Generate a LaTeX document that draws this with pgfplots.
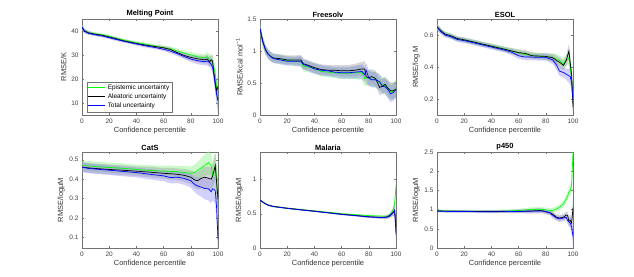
\documentclass[border=0pt]{standalone}
\usepackage{pgfplots}
\pgfplotsset{compat=1.18}
\usepackage{pgfplotstable}
\usepackage{fontspec}
\setmainfont{Liberation Sans}

\definecolor{mgreen}{rgb}{0,1,0}
\definecolor{mblue}{rgb}{0,0,1}
\definecolor{bgreen}{rgb}{0.55,0.95,0.55}
\definecolor{bgray}{rgb}{0.55,0.55,0.55}
\definecolor{bblue}{rgb}{0.55,0.55,0.95}

% columns: x, epistemic, aleatoric, total, band half-width
% first half: curve forward (+w); second half: same points reversed (-w), closing the band outline
\pgfplotstableread{
x e a t w
0 41.5 41.5 41.5 1.0
2 40.0 40.0 39.8 0.8
5 39.3 39.2 39.0 0.7
10 38.8 38.6 38.4 0.6
15 38.4 38.2 37.9 0.6
20 37.8 37.5 37.2 0.6
25 37.0 36.8 36.5 0.6
30 36.3 36.0 35.8 0.6
35 35.7 35.4 35.2 0.6
40 35.1 34.8 34.6 0.6
45 34.6 34.3 34.0 0.7
50 34.1 33.8 33.5 0.7
55 33.6 33.4 33.0 0.7
60 33.1 33.0 32.4 0.8
65 32.6 32.3 31.6 0.9
70 31.6 31.0 30.6 1.0
75 30.8 29.8 29.4 1.1
80 30.0 29.0 28.3 1.2
85 29.2 28.4 27.6 1.4
90 28.8 28.0 27.2 1.6
92 29.3 28.3 27.5 1.8
94 28.2 27.2 26.8 2.0
95 27.5 28.0 26.0 2.2
96 27.0 27.5 25.0 2.5
97 24.5 22.5 21.5 3.0
98 22.0 18.5 17.5 3.5
99 16.0 15.0 13.5 4.0
100 10.0 17.0 11.0 5.0
100 10.0 17.0 11.0 -5.0
99 16.0 15.0 13.5 -4.0
98 22.0 18.5 17.5 -3.5
97 24.5 22.5 21.5 -3.0
96 27.0 27.5 25.0 -2.5
95 27.5 28.0 26.0 -2.2
94 28.2 27.2 26.8 -2.0
92 29.3 28.3 27.5 -1.8
90 28.8 28.0 27.2 -1.6
85 29.2 28.4 27.6 -1.4
80 30.0 29.0 28.3 -1.2
75 30.8 29.8 29.4 -1.1
70 31.6 31.0 30.6 -1.0
65 32.6 32.3 31.6 -0.9
60 33.1 33.0 32.4 -0.8
55 33.6 33.4 33.0 -0.7
50 34.1 33.8 33.5 -0.7
45 34.6 34.3 34.0 -0.7
40 35.1 34.8 34.6 -0.6
35 35.7 35.4 35.2 -0.6
30 36.3 36.0 35.8 -0.6
25 37.0 36.8 36.5 -0.6
20 37.8 37.5 37.2 -0.6
15 38.4 38.2 37.9 -0.6
10 38.8 38.6 38.4 -0.6
5 39.3 39.2 39.0 -0.7
2 40.0 40.0 39.8 -0.8
0 41.5 41.5 41.5 -1.0
}\dmelt

\pgfplotstableread{
x e a t w
0 1.35 1.35 1.35 0.08
2 1.15 1.15 1.15 0.07
4 1.02 1.02 1.02 0.07
6 0.95 0.95 0.95 0.07
8 0.91 0.91 0.91 0.07
10 0.89 0.89 0.88 0.07
15 0.87 0.88 0.86 0.07
20 0.85 0.86 0.84 0.07
25 0.84 0.86 0.84 0.07
30 0.83 0.86 0.84 0.08
32 0.76 0.80 0.79 0.08
35 0.75 0.78 0.77 0.08
40 0.73 0.74 0.72 0.08
45 0.68 0.71 0.70 0.08
50 0.67 0.70 0.69 0.08
55 0.66 0.70 0.67 0.08
60 0.65 0.69 0.66 0.09
65 0.65 0.69 0.66 0.09
70 0.66 0.70 0.67 0.10
75 0.66 0.72 0.68 0.11
77 0.57 0.72 0.63 0.12
78 0.58 0.60 0.70 0.12
80 0.58 0.58 0.58 0.12
82 0.56 0.60 0.55 0.12
85 0.55 0.57 0.55 0.12
88 0.50 0.43 0.52 0.12
90 0.47 0.45 0.45 0.12
92 0.46 0.48 0.44 0.12
94 0.40 0.42 0.40 0.13
96 0.36 0.38 0.33 0.13
98 0.37 0.38 0.35 0.13
100 0.42 0.40 0.40 0.13
100 0.42 0.40 0.40 -0.13
98 0.37 0.38 0.35 -0.13
96 0.36 0.38 0.33 -0.13
94 0.40 0.42 0.40 -0.13
92 0.46 0.48 0.44 -0.12
90 0.47 0.45 0.45 -0.12
88 0.50 0.43 0.52 -0.12
85 0.55 0.57 0.55 -0.12
82 0.56 0.60 0.55 -0.12
80 0.58 0.58 0.58 -0.12
78 0.58 0.60 0.70 -0.12
77 0.57 0.72 0.63 -0.12
75 0.66 0.72 0.68 -0.11
70 0.66 0.70 0.67 -0.10
65 0.65 0.69 0.66 -0.09
60 0.65 0.69 0.66 -0.09
55 0.66 0.70 0.67 -0.08
50 0.67 0.70 0.69 -0.08
45 0.68 0.71 0.70 -0.08
40 0.73 0.74 0.72 -0.08
35 0.75 0.78 0.77 -0.08
32 0.76 0.80 0.79 -0.08
30 0.83 0.86 0.84 -0.08
25 0.84 0.86 0.84 -0.07
20 0.85 0.86 0.84 -0.07
15 0.87 0.88 0.86 -0.07
10 0.89 0.89 0.88 -0.07
8 0.91 0.91 0.91 -0.07
6 0.95 0.95 0.95 -0.07
4 1.02 1.02 1.02 -0.07
2 1.15 1.15 1.15 -0.07
0 1.35 1.35 1.35 -0.08
}\dfree

\pgfplotstableread{
x e a t w
0 0.650 0.650 0.650 0.02
3 0.625 0.625 0.620 0.015
6 0.605 0.605 0.600 0.015
10 0.595 0.595 0.590 0.015
15 0.575 0.578 0.572 0.015
20 0.568 0.570 0.565 0.015
25 0.560 0.560 0.555 0.015
30 0.550 0.550 0.545 0.015
35 0.540 0.540 0.535 0.015
40 0.532 0.530 0.525 0.015
45 0.522 0.520 0.515 0.015
50 0.512 0.510 0.505 0.015
55 0.500 0.500 0.492 0.018
60 0.488 0.490 0.470 0.02
65 0.478 0.485 0.462 0.02
70 0.472 0.470 0.462 0.02
75 0.468 0.468 0.460 0.02
80 0.466 0.466 0.460 0.02
85 0.460 0.458 0.445 0.025
88 0.450 0.440 0.410 0.03
90 0.440 0.430 0.375 0.03
93 0.420 0.410 0.365 0.03
95 0.445 0.440 0.355 0.035
96 0.450 0.470 0.350 0.04
97 0.455 0.500 0.345 0.045
98 0.400 0.420 0.340 0.05
99 0.320 0.350 0.300 0.06
100 0.200 0.150 0.200 0.07
100 0.200 0.150 0.200 -0.07
99 0.320 0.350 0.300 -0.06
98 0.400 0.420 0.340 -0.05
97 0.455 0.500 0.345 -0.045
96 0.450 0.470 0.350 -0.04
95 0.445 0.440 0.355 -0.035
93 0.420 0.410 0.365 -0.03
90 0.440 0.430 0.375 -0.03
88 0.450 0.440 0.410 -0.03
85 0.460 0.458 0.445 -0.025
80 0.466 0.466 0.460 -0.02
75 0.468 0.468 0.460 -0.02
70 0.472 0.470 0.462 -0.02
65 0.478 0.485 0.462 -0.02
60 0.488 0.490 0.470 -0.02
55 0.500 0.500 0.492 -0.018
50 0.512 0.510 0.505 -0.015
45 0.522 0.520 0.515 -0.015
40 0.532 0.530 0.525 -0.015
35 0.540 0.540 0.535 -0.015
30 0.550 0.550 0.545 -0.015
25 0.560 0.560 0.555 -0.015
20 0.568 0.570 0.565 -0.015
15 0.575 0.578 0.572 -0.015
10 0.595 0.595 0.590 -0.015
6 0.605 0.605 0.600 -0.015
3 0.625 0.625 0.620 -0.015
0 0.650 0.650 0.650 -0.02
}\desol

\pgfplotstableread{
x e a t w
0 0.470 0.462 0.462 0.025
5 0.468 0.458 0.455 0.025
10 0.465 0.455 0.452 0.025
20 0.460 0.450 0.446 0.025
30 0.456 0.446 0.440 0.025
40 0.450 0.441 0.434 0.025
50 0.445 0.436 0.425 0.027
60 0.441 0.430 0.417 0.028
65 0.440 0.428 0.408 0.03
70 0.438 0.425 0.410 0.03
75 0.435 0.420 0.404 0.033
80 0.430 0.410 0.392 0.035
83 0.435 0.395 0.372 0.04
85 0.445 0.392 0.365 0.045
88 0.460 0.405 0.358 0.05
90 0.470 0.410 0.352 0.055
93 0.485 0.405 0.350 0.06
95 0.470 0.400 0.335 0.06
96 0.420 0.415 0.350 0.06
97 0.450 0.440 0.348 0.065
98 0.470 0.470 0.340 0.07
99 0.400 0.380 0.250 0.08
100 0.250 0.300 0.090 0.09
100 0.250 0.300 0.090 -0.09
99 0.400 0.380 0.250 -0.08
98 0.470 0.470 0.340 -0.07
97 0.450 0.440 0.348 -0.065
96 0.420 0.415 0.350 -0.06
95 0.470 0.400 0.335 -0.06
93 0.485 0.405 0.350 -0.06
90 0.470 0.410 0.352 -0.055
88 0.460 0.405 0.358 -0.05
85 0.445 0.392 0.365 -0.045
83 0.435 0.395 0.372 -0.04
80 0.430 0.410 0.392 -0.035
75 0.435 0.420 0.404 -0.033
70 0.438 0.425 0.410 -0.03
65 0.440 0.428 0.408 -0.03
60 0.441 0.430 0.417 -0.028
50 0.445 0.436 0.425 -0.027
40 0.450 0.441 0.434 -0.025
30 0.456 0.446 0.440 -0.025
20 0.460 0.450 0.446 -0.025
10 0.465 0.455 0.452 -0.025
5 0.468 0.458 0.455 -0.025
0 0.470 0.462 0.462 -0.025
}\dcats

\pgfplotstableread{
x e a t w
0 0.700 0.700 0.700 0.01
2 0.670 0.670 0.670 0.01
4 0.645 0.645 0.645 0.01
6 0.625 0.625 0.625 0.01
10 0.605 0.605 0.605 0.01
20 0.580 0.580 0.578 0.01
30 0.560 0.558 0.556 0.01
40 0.540 0.537 0.535 0.01
50 0.520 0.515 0.513 0.01
60 0.500 0.492 0.490 0.012
70 0.485 0.475 0.472 0.012
80 0.472 0.455 0.452 0.015
85 0.468 0.450 0.448 0.015
90 0.465 0.445 0.443 0.02
93 0.460 0.450 0.450 0.025
95 0.470 0.460 0.470 0.03
97 0.520 0.500 0.500 0.04
98 0.560 0.520 0.520 0.05
99 0.650 0.550 0.550 0.08
100 0.900 0.300 0.200 0.15
100 0.900 0.300 0.200 -0.15
99 0.650 0.550 0.550 -0.08
98 0.560 0.520 0.520 -0.05
97 0.520 0.500 0.500 -0.04
95 0.470 0.460 0.470 -0.03
93 0.460 0.450 0.450 -0.025
90 0.465 0.445 0.443 -0.02
85 0.468 0.450 0.448 -0.015
80 0.472 0.455 0.452 -0.015
70 0.485 0.475 0.472 -0.012
60 0.500 0.492 0.490 -0.012
50 0.520 0.515 0.513 -0.01
40 0.540 0.537 0.535 -0.01
30 0.560 0.558 0.556 -0.01
20 0.580 0.580 0.578 -0.01
10 0.605 0.605 0.605 -0.01
6 0.625 0.625 0.625 -0.01
4 0.645 0.645 0.645 -0.01
2 0.670 0.670 0.670 -0.01
0 0.700 0.700 0.700 -0.01
}\dmal

\pgfplotstableread{
x e a t w
0 0.970 0.965 0.960 0.03
5 0.965 0.960 0.955 0.03
10 0.962 0.958 0.952 0.03
20 0.958 0.955 0.950 0.03
30 0.955 0.952 0.946 0.03
40 0.955 0.950 0.945 0.035
50 0.962 0.952 0.948 0.04
60 0.975 0.955 0.950 0.045
65 0.990 0.960 0.955 0.05
70 1.000 0.965 0.960 0.06
75 1.010 0.975 0.965 0.06
78 1.000 0.970 0.960 0.06
80 0.990 0.940 0.950 0.06
83 0.980 0.920 0.920 0.06
85 0.975 0.880 0.850 0.07
88 1.020 0.800 0.780 0.07
90 1.060 0.780 0.760 0.08
93 1.150 0.800 0.780 0.08
95 1.280 0.860 0.800 0.09
96 1.350 0.850 0.720 0.10
97 1.450 0.700 0.680 0.12
98 1.500 0.720 0.650 0.14
99 1.650 0.650 0.550 0.18
100 2.500 1.050 0.300 0.25
100 2.500 1.050 0.300 -0.25
99 1.650 0.650 0.550 -0.18
98 1.500 0.720 0.650 -0.14
97 1.450 0.700 0.680 -0.12
96 1.350 0.850 0.720 -0.10
95 1.280 0.860 0.800 -0.09
93 1.150 0.800 0.780 -0.08
90 1.060 0.780 0.760 -0.08
88 1.020 0.800 0.780 -0.07
85 0.975 0.880 0.850 -0.07
83 0.980 0.920 0.920 -0.06
80 0.990 0.940 0.950 -0.06
78 1.000 0.970 0.960 -0.06
75 1.010 0.975 0.965 -0.06
70 1.000 0.965 0.960 -0.06
65 0.990 0.960 0.955 -0.05
60 0.975 0.955 0.950 -0.045
50 0.962 0.952 0.948 -0.04
40 0.955 0.950 0.945 -0.035
30 0.955 0.952 0.946 -0.03
20 0.958 0.955 0.950 -0.03
10 0.962 0.958 0.952 -0.03
5 0.965 0.960 0.955 -0.03
0 0.970 0.965 0.960 -0.03
}\dpfs

% #1 table, #2 number of forward rows, #3 total rows
\newcommand{\bandsandlines}[3]{%
  \addplot[fill=bgreen, fill opacity=0.45, draw=none, forget plot] table[x=x, y expr=\thisrow{e}+\thisrow{w}] {#1} -- cycle;
  \addplot[fill=bgray, fill opacity=0.35, draw=none, forget plot] table[x=x, y expr=\thisrow{a}+\thisrow{w}] {#1} -- cycle;
  \addplot[fill=bblue, fill opacity=0.4, draw=none, forget plot] table[x=x, y expr=\thisrow{t}+\thisrow{w}] {#1} -- cycle;
  \addplot[mgreen, line width=0.7pt, skip coords between index={#2}{#3}] table[x=x, y=e] {#1};
  \addplot[black, line width=0.7pt, skip coords between index={#2}{#3}] table[x=x, y=a] {#1};
  \addplot[mblue, line width=0.7pt, skip coords between index={#2}{#3}] table[x=x, y=t] {#1};
}

\pgfplotsset{
  mstyle/.style={
    scale only axis, width=136bp, height=96bp,
    xmin=0, xmax=100, xtick={0,20,...,100},
    tick align=inside, major tick length=2bp,
    axis line style={black!55, line width=0.4pt},
    tick style={black!55, line width=0.4pt},
    scaled ticks=false,
    /pgf/number format/assume math mode=true,
    ticklabel style={font=\fontsize{6.5}{7}\selectfont, text=black!75},
    label style={font=\fontsize{7.5}{8}\selectfont, text=black!80},
    title style={font=\bfseries\fontsize{7.5}{8}\selectfont, yshift=-8bp},
    xlabel={Confidence percentile},
    xlabel style={yshift=3bp},
    ylabel style={yshift=-2bp},
  }
}

\begin{document}
\begin{tikzpicture}

% Row 1
\begin{axis}[mstyle, at={(82bp,162bp)}, anchor=south west,
  title={Melting Point}, ylabel={RMSE/K},
  ymin=5, ymax=45, ytick={10,20,30,40},
  legend style={at={(0.035,0.03)}, anchor=south west, draw=black!55,
    font=\fontsize{6.5}{7}\selectfont, inner sep=1pt, row sep=-1.2pt,
    legend cell align=left, fill=white},
  legend image post style={line width=0.8pt}]
\bandsandlines{\dmelt}{28}{56}
\legend{Epistemic uncertainty, Aleatoric uncertainty, Total uncertainty}
\end{axis}

\begin{axis}[mstyle, at={(260bp,162bp)}, anchor=south west,
  title={Freesolv}, ylabel={RMSE/kcal mol\textsuperscript{−1}},
  ymin=0, ymax=1.5, ytick={0,0.5,1,1.5}]
\bandsandlines{\dfree}{32}{64}
\end{axis}

\begin{axis}[mstyle, at={(437bp,162bp)}, anchor=south west,
  title={ESOL}, ylabel={RMSE/log M},
  ymin=0.1, ymax=0.7, ytick={0.2,0.4,0.6}]
\bandsandlines{\desol}{28}{56}
\end{axis}

% Row 2
\begin{axis}[mstyle, at={(82bp,29bp)}, anchor=south west,
  title={CatS}, ylabel={RMSE/logμM},
  ymin=0.045, ymax=0.54, ytick={0.1,0.2,0.3,0.4,0.5}]
\bandsandlines{\dcats}{23}{46}
\end{axis}

\begin{axis}[mstyle, at={(260bp,29bp)}, anchor=south west,
  title={Malaria}, ylabel={RMSE/logμM},
  ymin=0, ymax=1.4, ytick={0,0.5,1}]
\bandsandlines{\dmal}{20}{40}
\end{axis}

\begin{axis}[mstyle, at={(437bp,29bp)}, anchor=south west,
  title={p450}, ylabel={RMSE/logμM},
  ymin=0, ymax=2.5, ytick={0,0.5,1,1.5,2,2.5}]
\bandsandlines{\dpfs}{24}{48}
\end{axis}

\path (0bp,0bp) (634bp,277bp);
\end{tikzpicture}
\end{document}
